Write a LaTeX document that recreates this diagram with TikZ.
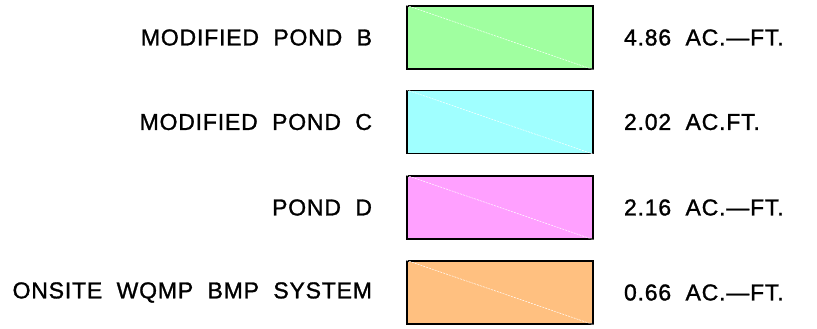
\documentclass[tikz,border=0pt]{standalone}
\usepackage{fontspec}
\setmainfont{Liberation Sans}[LetterSpace=3.5, FakeBold=1.2]
\usetikzlibrary{positioning}
\definecolor{pondB}{RGB}{160,255,160}
\definecolor{pondC}{RGB}{160,255,255}
\definecolor{pondD}{RGB}{255,160,255}
\definecolor{wqmp}{RGB}{255,192,128}
\tikzset{every node/.style={inner sep=0pt, font=\fontsize{23}{26}\selectfont},
  pondbox/.style={draw, line width=1.6pt, minimum width=186pt, minimum height=63pt},
  diag/.style={white, dashed, dash pattern=on 2pt off 1pt, line width=0.5pt}}
\begin{document}
\begin{tikzpicture}[x=1pt, y=-1pt, node distance=34pt and 30pt]
  \useasboundingbox (0,0) rectangle (817,329);
  \node [pondbox, fill=pondB] (b1) at (500,37.5) {};
  \node [pondbox, fill=pondC] (b2) at (500,122) {};
  \node [pondbox, fill=pondD] (b3) at (500,207.5) {};
  \node [pondbox, fill=wqmp] (b4) at (500,292.5) {};
  \foreach \b in {b1,b2,b3,b4}
    \draw [diag] (\b.north west) -- (\b.south east);

  \node [left=34pt of b1] (l1) {MODIFIED\ \ POND\ \ B};
  \node [left=34pt of b2] (l2) {MODIFIED\ \ POND\ \ C};
  \node [left=34pt of b3] (l3) {POND\ \ D};
  \node [left=34pt of b4] (l4) {ONSITE\ \ WQMP\ \ BMP\ \ SYSTEM};

  \node [right=30pt of b1] (v1) {4.86\ \ AC.---FT.};
  \node [right=30pt of b2] (v2) {2.02\ \ AC.FT.};
  \node [right=30pt of b3] (v3) {2.16\ \ AC.---FT.};
  \node [right=30pt of b4] (v4) {0.66\ \ AC.---FT.};
\end{tikzpicture}
\end{document}
